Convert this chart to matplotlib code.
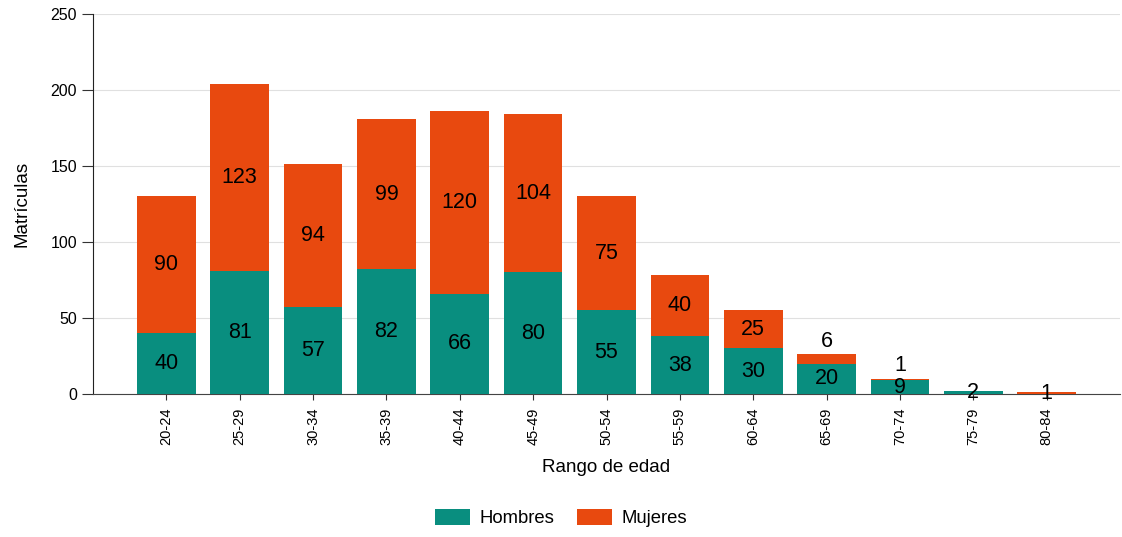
import matplotlib.pyplot as plt
import numpy as np

plt.rcParams["font.family"] = ["Liberation Sans", "DejaVu Sans"]

rangos = ["20-24", "25-29", "30-34", "35-39", "40-44", "45-49", "50-54",
          "55-59", "60-64", "65-69", "70-74", "75-79", "80-84"]
hombres = [40, 81, 57, 82, 66, 80, 55, 38, 30, 20, 9, 2, 0]
mujeres = [90, 123, 94, 99, 120, 104, 75, 40, 25, 6, 1, 0, 1]

COLOR_H = "#098e7f"
COLOR_M = "#e8490f"


def label_segments(ax, x, bottoms, heights, small_shift):
    for xi, b, h in zip(x, bottoms, heights):
        if h <= 0:
            continue
        # segmentos muy pequeños encima de otro: la etiqueta va sobre la barra
        if small_shift and b > 0 and h < 8:
            ax.annotate(str(h), (xi, b + h), xytext=(0, 2), textcoords="offset points",
                        ha="center", va="bottom", fontsize=15.5, color="black")
        else:
            ax.text(xi, b + h / 2, str(h), ha="center", va="center",
                    fontsize=15.5, color="black")


def main() -> None:
    fig = plt.figure(figsize=(11.22, 5.37), dpi=100)
    ax = fig.add_axes([93 / 1122, 143 / 537, 1027 / 1122, 380 / 537])

    x = np.arange(len(rangos))
    ax.bar(x, hombres, width=0.8, color=COLOR_H, label="Hombres", zorder=3)
    ax.bar(x, mujeres, width=0.8, bottom=hombres, color=COLOR_M, label="Mujeres", zorder=3)

    label_segments(ax, x, [0] * len(x), hombres, False)
    label_segments(ax, x, hombres, mujeres, True)

    ax.set_xlim(-1, 13)
    ax.set_ylim(0, 250)
    ax.set_yticks(np.arange(0, 251, 50))
    ax.set_xticks(x)
    ax.set_xticklabels(rangos, rotation=90, fontsize=10.5)
    ax.tick_params(axis="y", labelsize=11.5, length=8, width=0.8, color="#333333")
    ax.tick_params(axis="x", length=4, width=0.8, pad=6, color="#333333")
    ax.grid(axis="y", color="#e0e0e0", linewidth=0.8, zorder=0)

    for side in ("top", "right"):
        ax.spines[side].set_visible(False)
    ax.spines["left"].set_color("#222222")
    ax.spines["bottom"].set_color("#444444")

    ax.set_ylabel("Matrículas", fontsize=13.5, labelpad=14)
    ax.set_xlabel("Rango de edad", fontsize=13.5, labelpad=10)

    fig.legend(loc="center", bbox_to_anchor=(0.5, 0.035), ncol=2, frameon=False,
               fontsize=13.3, handlelength=1.9, handleheight=0.9, columnspacing=1.2,
               handletextpad=0.5)

    fig.savefig("out.png", dpi=100)


if __name__ == "__main__":
    main()
